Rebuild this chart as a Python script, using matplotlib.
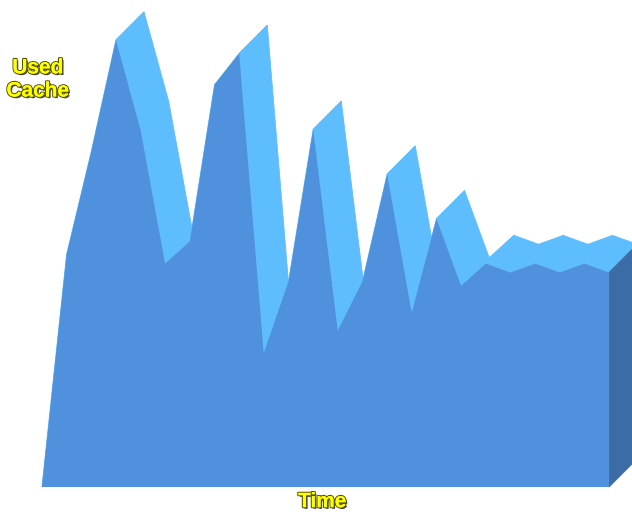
import matplotlib.pyplot as plt
import matplotlib.patheffects as pe
import numpy as np

# cache usage samples, percent of the tallest peak
t = np.arange(24)
used = [0, 52, 75, 100, 80, 50, 55, 90, 97, 30, 46, 80,
        35, 46, 70, 39, 60, 45, 50, 48, 50, 48, 50, 48]

front_col = '#5091de'
top_col = '#5ebdfd'
side_col = '#3b6ca6'

# extrusion depth of the "3d" ribbon (x in samples, y in percent)
dx, dy = 1.14, 6.3

fig = plt.figure(figsize=(6.32, 5.14), dpi=100)
ax = fig.add_axes([0, 0, 1, 1])
ax.set_xlim(-1.70, 23.93)
ax.set_ylim(-6.04, 108.95)
ax.axis('off')

x = np.asarray(t, dtype=float)
y = np.asarray(used, dtype=float)

# top surface, one strip per segment
for i in range(len(x) - 1):
    ax.fill([x[i], x[i+1], x[i+1] + dx, x[i] + dx],
            [y[i], y[i+1], y[i+1] + dy, y[i] + dy],
            color=top_col, lw=0.6, ec=top_col, zorder=1)

# right hand side wall
ax.fill([x[-1], x[-1], x[-1] + dx, x[-1] + dx],
        [0, y[-1], y[-1] + dy, dy],
        color=side_col, lw=0.6, ec=side_col, zorder=2)

# front face
ax.fill(np.concatenate([x, [x[-1]]]), np.concatenate([y, [0]]),
        color=front_col, lw=0, zorder=3)

fx = [pe.SimplePatchShadow(offset=(1.2, -1.2), shadow_rgbFace='#333333', alpha=0.9),
      pe.withStroke(linewidth=1.6, foreground='#555500'), pe.Normal()]
lab = dict(color='#ffff00', fontsize=15, fontweight='bold',
           family='Liberation Sans', ha='center', va='center',
           path_effects=fx, zorder=5)
ax.text(0.060, 0.868, 'Used', transform=ax.transAxes, **lab)
ax.text(0.060, 0.823, 'Cache', transform=ax.transAxes, **lab)
ax.text(0.510, 0.024, 'Time', transform=ax.transAxes, **lab)

fig.savefig('out.png', dpi=100, facecolor='white')
